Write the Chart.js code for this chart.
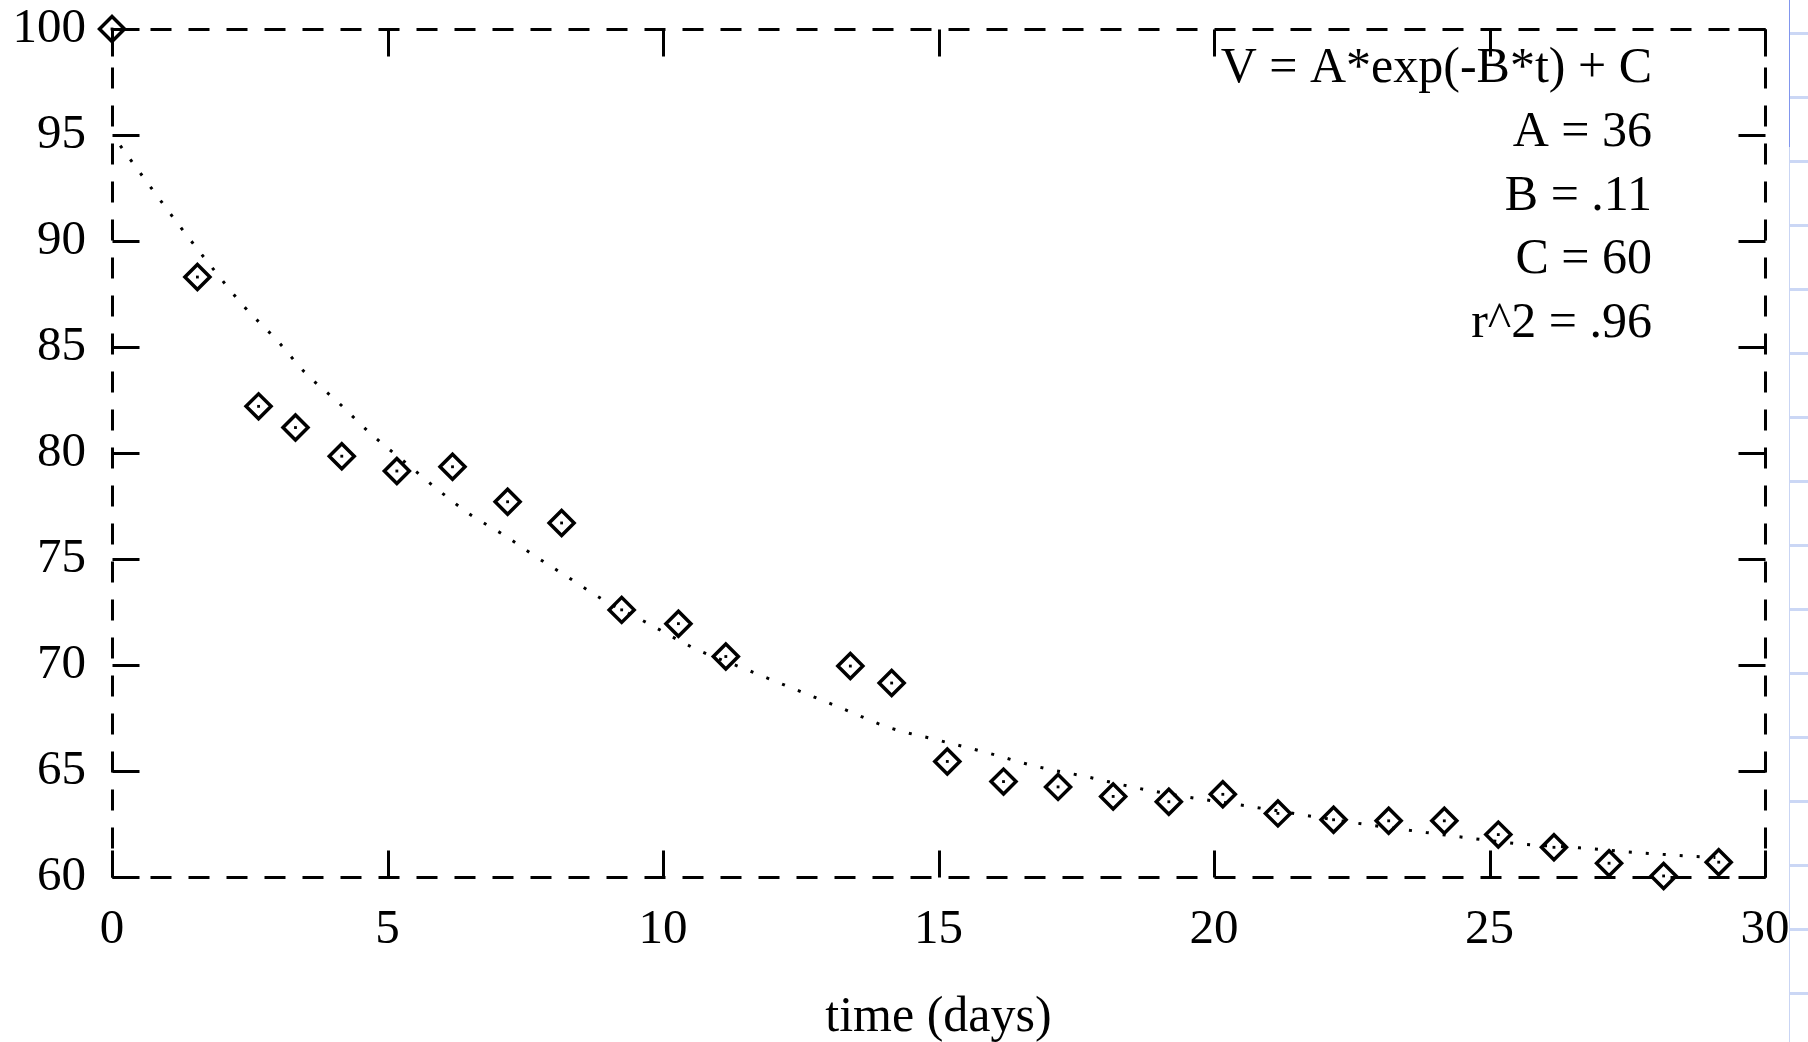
<!DOCTYPE html>
<html>
<head>
<meta charset="utf-8">
<title>V = A*exp(-B*t) + C</title>
<script src="https://cdn.jsdelivr.net/npm/chart.js@4.4.1/dist/chart.umd.min.js"></script>
<style>
  html, body { margin: 0; padding: 0; background: #fff; }
  #wrap { position: relative; width: 1808px; height: 1042px; }
</style>
</head>
<body>
<div id="wrap"><canvas id="chart"></canvas></div>
<script>
/* ==========================================
   ========================================== */

const days = [
  0, 1.55, 2.66, 3.33, 4.17, 5.17, 6.18, 7.18, 8.16, 9.25,
  10.28, 11.14, 13.40, 14.15, 15.16, 16.18, 17.17, 18.17, 19.18, 20.16,
  21.16, 22.17, 23.17, 24.18, 25.16, 26.17, 27.17, 28.16, 29.16
];
const volume = [
  100, 88.3, 82.2, 81.2, 79.85, 79.15, 79.35, 77.7, 76.7, 72.6,
  71.95, 70.4, 69.95, 69.15, 65.45, 64.5, 64.25, 63.8, 63.55, 63.9,
  63.0, 62.7, 62.65, 62.65, 62.0, 61.4, 60.65, 60.05, 60.7
];

// dotted fit curve
const fitDays = [
  0.15, 0.6, 1.2, 1.8, 2.4, 3.0, 3.5, 4.1, 4.7, 5.3,
  5.9, 6.5, 7.1, 7.7, 8.3, 8.9, 9.7, 10.6, 11.5, 12.4,
  13.3, 14.1, 15.0, 15.9, 16.8, 17.65, 18.6, 19.45, 20.6, 21.8,
  22.7, 23.85, 24.75, 25.6, 26.5, 27.7, 28.85, 29.1
];
const fitVolume = [
  94.5, 92.9, 90.8, 88.8, 86.9, 85.3, 83.8, 82.4, 80.9, 79.6,
  78.3, 77.1, 76.15, 75.1, 74.1, 73.1, 72.0, 70.75, 69.8, 68.85,
  67.9, 67.05, 66.45, 65.85, 65.2, 64.75, 64.2, 63.8, 63.35, 62.85,
  62.5, 62.1, 61.8, 61.55, 61.4, 61.15, 60.95, 60.92
];

const xTickValues = [0, 5, 10, 15, 20, 25, 30];
const yTickValues = [60, 65, 70, 75, 80, 85, 90, 95, 100];

const fitLabel = ['V = A*exp(-B*t) + C', 'A = 36', 'B = .11', 'C = 60', 'r^2 = .96'];
const xTitle = 'time (days)';

const TICK_LEN = 27;
const FRAME_DASH = [21, 17];
const SERIF = '"Liberation Serif", "Times New Roman", serif';

Chart.defaults.font.family = SERIF;
Chart.defaults.color = '#000';

function toPoints(xs, ys) {
  return xs.map((x, i) => ({ x, y: ys[i] }));
}

function setTicks(values) {
  return scale => { scale.ticks = values.map(v => ({ value: v })); };
}

// force the box size and drop the label overflow padding
function fixSize(prop, px) {
  return scale => {
    scale[prop] = px;
    scale.paddingLeft = scale.paddingRight = scale.paddingTop = scale.paddingBottom = 0;
  };
}

// dashed frame plus inward ticks on all four sides
const frame = {
  id: 'frame',
  beforeDatasetsDraw(chart) {
    const { ctx, chartArea: a, scales } = chart;
    const l = Math.round(a.left) + 0.5, r = Math.round(a.right) + 0.5;
    const t = Math.round(a.top) + 0.5, b = Math.round(a.bottom) + 0.5;
    ctx.save();
    ctx.strokeStyle = '#000';
    ctx.lineWidth = 3;

    ctx.setLineDash(FRAME_DASH);
    [[l, t, r, t], [l, b, r, b], [l, t, l, b], [r, t, r, b]].forEach(([x1, y1, x2, y2]) => {
      ctx.beginPath();
      ctx.moveTo(x1, y1);
      ctx.lineTo(x2, y2);
      ctx.stroke();
    });

    ctx.setLineDash([]);
    ctx.beginPath();
    scales.x.ticks.forEach(tk => {
      const px = Math.round(scales.x.getPixelForValue(tk.value)) + 0.5;
      ctx.moveTo(px, b); ctx.lineTo(px, b - TICK_LEN);
      ctx.moveTo(px, t); ctx.lineTo(px, t + TICK_LEN);
    });
    scales.y.ticks.forEach(tk => {
      const py = Math.round(scales.y.getPixelForValue(tk.value)) + 0.5;
      ctx.moveTo(l, py); ctx.lineTo(l + TICK_LEN, py);
      ctx.moveTo(r, py); ctx.lineTo(r - TICK_LEN, py);
    });
    ctx.stroke();
    ctx.restore();
  }
};

// fit parameters, right aligned in the top corner
const fitText = {
  id: 'fitText',
  afterDatasetsDraw(chart) {
    const { ctx, chartArea: a } = chart;
    ctx.save();
    ctx.font = '50px ' + SERIF;
    ctx.fillStyle = '#000';
    ctx.textAlign = 'right';
    ctx.textBaseline = 'alphabetic';
    fitLabel.forEach((s, i) => ctx.fillText(s, a.right - 113, a.top + 53 + i * 63.75));
    ctx.restore();
  }
};

// the faint spreadsheet edge visible on the right of the screenshot
const sheetEdge = {
  id: 'sheetEdge',
  beforeDraw(chart) {
    const { ctx, width, height } = chart;
    ctx.save();
    ctx.fillStyle = '#c9d5f4';
    ctx.fillRect(1789, 0, 1, height);
    ctx.fillStyle = '#8196ee';
    ctx.fillRect(1789, 0, 1, 147);
    ctx.fillStyle = '#cbd7f5';
    for (let y = 32; y < height; y += 64) ctx.fillRect(1790, y, width - 1790, 3);
    ctx.restore();
  }
};

const hidden = { display: false, drawTicks: false };

new Chart(document.getElementById('chart'), {
  type: 'scatter',
  data: {
    datasets: [
      {
        label: 'fit',
        data: toPoints(fitDays, fitVolume),
        showLine: true,
        borderColor: '#000',
        borderWidth: 3,
        borderDash: [3, 14],
        cubicInterpolationMode: 'monotone',
        pointRadius: 0,
        fill: false,
        clip: false,
      },
      {
        label: 'volume',
        data: toPoints(days, volume),
        pointStyle: 'rectRot',
        pointRadius: 12.5,
        borderWidth: 3.5,
        borderColor: '#000',
        backgroundColor: 'rgba(0,0,0,0)',
        clip: false,
      },
      {
        label: 'centre',
        data: toPoints(days, volume),
        pointStyle: 'rect',
        pointRadius: 2,
        borderWidth: 0,
        backgroundColor: '#000',
        clip: false,
      }
    ]
  },
  options: {
    responsive: true,
    maintainAspectRatio: false,
    animation: false,
    events: [],
    layout: { padding: 0 },
    plugins: {
      legend: { display: false },
      tooltip: { enabled: false }
    },
    scales: {
      x: {
        type: 'linear', position: 'bottom', min: 0, max: 30,
        afterBuildTicks: setTicks(xTickValues),
        afterFit: fixSize('height', 165),
        grid: hidden,
        border: { display: false },
        ticks: { color: '#000', font: { size: 49 }, padding: 24, maxRotation: 0, autoSkip: false },
        title: { display: true, text: xTitle, color: '#000', font: { size: 50 }, padding: { top: 0, bottom: -6 } }
      },
      y: {
        type: 'linear', position: 'left', min: 60, max: 100,
        afterBuildTicks: setTicks(yTickValues),
        afterFit: fixSize('width', 112),
        grid: hidden,
        border: { display: false },
        ticks: { color: '#000', font: { size: 49 }, padding: 26, labelOffset: 0, autoSkip: false }
      },
      x2: {
        type: 'linear', position: 'top', min: 0, max: 30,
        afterFit: fixSize('height', 29),
        grid: hidden,
        border: { display: false },
        ticks: { display: false }
      },
      y2: {
        type: 'linear', position: 'right', min: 60, max: 100,
        afterFit: fixSize('width', 43),
        grid: hidden,
        border: { display: false },
        ticks: { display: false }
      }
    }
  },
  plugins: [sheetEdge, frame, fitText]
});
</script>
</body>
</html>
